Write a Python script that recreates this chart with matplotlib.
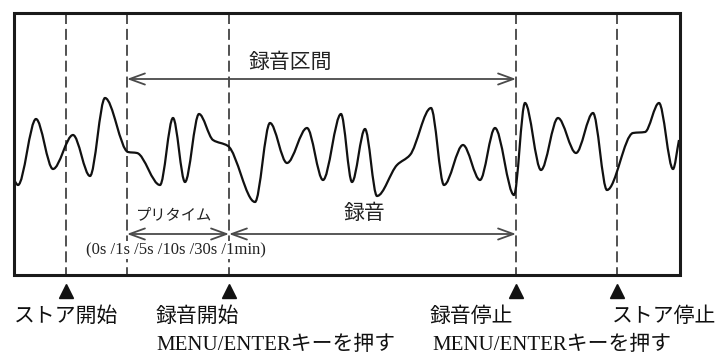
import numpy as np
import matplotlib
matplotlib.use("Agg")
import matplotlib.pyplot as plt
from matplotlib.path import Path
from matplotlib.patches import PathPatch, Rectangle

# --- DATA (pixel coordinates of the drawing, y grows downward) ---
# extrema / shoulder points of the waveform
wave_x = [14, 18, 36, 53, 73, 90, 105, 128, 137, 160, 173, 185, 199, 213, 228,
          255, 270, 287, 307, 323, 341, 352, 365, 377, 397, 410, 431, 444, 463,
          480, 495, 514, 525, 541, 558, 576, 593, 607, 633, 645, 659, 673, 679]
wave_y = [180, 185, 119, 169, 135, 176, 98, 152, 153, 185, 118, 182, 114, 140, 146,
          202, 123, 163, 128, 180, 114, 182, 129, 196, 165, 155, 108, 185, 145,
          180, 128, 195, 103, 170, 118, 153, 113, 190, 133, 132, 103, 169, 140]

# dashed event lines
event_x = [66, 127, 229, 516, 617]
# triangle markers under the frame
marker_x = [66, 229, 516, 617]

# bottom labels: (x, y, text, alignment)
bottom_labels = [
    (66, 317, "ストア開始", "center"),
    (156, 317, "録音開始", "left"),
    (156, 345, "MENU/ENTERキーを押す", "left"),
    (430, 317, "録音停止", "left"),
    (432, 345, "MENU/ENTERキーを押す", "left"),
    (612, 317, "ストア停止", "left"),
]

FRAME = (14, 13, 680, 275)  # left, top, right, bottom
JP = ["Noto Sans CJK JP", "DejaVu Sans"]
MIX = ["Liberation Serif", "Noto Sans CJK JP"]


def pchip_slopes(x, y):
    # monotone tangents so peaks stay flat and shoulders look soft
    x = np.asarray(x, float)
    y = np.asarray(y, float)
    d = np.diff(y) / np.diff(x)
    m = np.zeros_like(y)
    m[0], m[-1] = d[0], d[-1]
    for i in range(1, len(y) - 1):
        if d[i - 1] * d[i] > 0:
            m[i] = 2.0 / (1.0 / d[i - 1] + 1.0 / d[i])
    return m


def wave_path(x, y):
    m = pchip_slopes(x, y)
    verts = [(x[0], y[0])]
    codes = [Path.MOVETO]
    for i in range(len(x) - 1):
        h = (x[i + 1] - x[i]) / 3.0
        verts += [(x[i] + h, y[i] + m[i] * h),
                  (x[i + 1] - h, y[i + 1] - m[i + 1] * h),
                  (x[i + 1], y[i + 1])]
        codes += [Path.CURVE4] * 3
    return Path(verts, codes)


def arrow(ax, x0, x1, y, left=True, right=True):
    style = ("<" if left else "-") + "-" + (">" if right else "")
    ax.annotate("", xy=(x1, y), xytext=(x0, y),
                arrowprops=dict(arrowstyle=style + ",head_length=1.1,head_width=0.4",
                                color="#4a4a4a", lw=1.3, shrinkA=0, shrinkB=0,
                                mutation_scale=10))


fig = plt.figure(figsize=(7.18, 3.54), dpi=100)
ax = fig.add_axes([0, 0, 1, 1])
ax.set_xlim(0, 718)
ax.set_ylim(354, 0)
ax.axis("off")

# frame
l, t, r, b = FRAME
ax.add_patch(Rectangle((l, t), r - l, b - t, fill=False, ec="#1a1a1a", lw=2.2, zorder=4))

# dashed lines
for xv in event_x:
    ax.plot([xv, xv], [t, b], color="#222222", lw=1.1, ls=(0, (7.2, 3.2)), zorder=2)

# waveform
ax.add_patch(PathPatch(wave_path(wave_x, wave_y), fc="none", ec="#111111", lw=1.6, zorder=3))

# arrows
arrow(ax, 127, 516, 79)
arrow(ax, 127, 229, 234)
arrow(ax, 229, 516, 234)

ax.text(290, 62, "録音区間", family=JP, fontsize=15, ha="center", va="center", color="#222222")
ax.text(174, 215, "プリタイム", family=JP, fontsize=11, ha="center", va="center", color="#222222")
ax.text(364, 213, "録音", family=JP, fontsize=15, ha="center", va="center", color="#222222")
ax.text(176, 250, "(0s /1s /5s /10s /30s /1min)", family=MIX, fontsize=12,
        ha="center", va="center", color="#222222", zorder=5,
        bbox=dict(fc="white", ec="none", pad=0.5))

# triangles + labels below the frame
ax.plot(marker_x, [291] * len(marker_x), ls="none", marker="^", ms=10, color="#111111",
        clip_on=False)
for xv, yv, txt, ha in bottom_labels:
    ax.text(xv, yv, txt, family=MIX, fontsize=15, ha=ha, va="center", color="#111111")

fig.savefig("out.png", dpi=100, facecolor="white")
